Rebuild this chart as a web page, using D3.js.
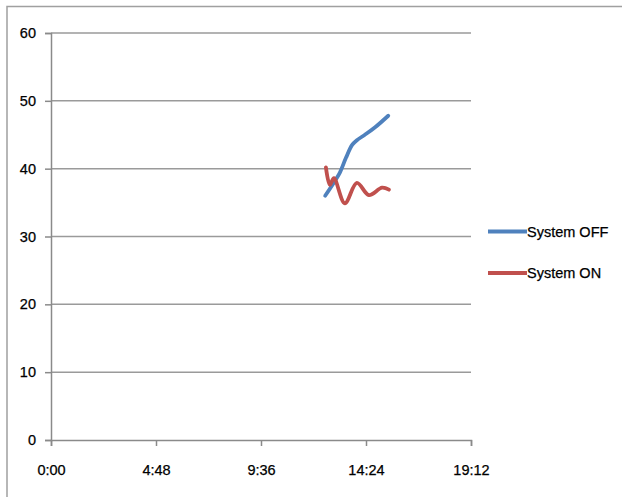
<!DOCTYPE html>
<html><head><meta charset="utf-8">
<script src="https://cdn.jsdelivr.net/npm/d3@7"></script>
<style>body{margin:0;background:#fff}svg{display:block}</style>
</head><body>
<svg id="c" width="622" height="497"></svg>
<script>
const yTicks = [0, 10, 20, 30, 40, 50, 60];
const xTickLabels = ["0:00", "4:48", "9:36", "14:24", "19:12"];
const seriesNames = ["System OFF", "System ON"];
const offTimes = ["12:32","12:53","13:13","13:29","13:46","13:59","14:21","14:49","15:25"];
const offValues = [36.0, 37.7, 39.5, 41.6, 43.5, 44.2, 45.0, 46.1, 47.8];
const onTimes = ["12:34","12:45","12:56","13:26","13:59","14:32","15:08","15:27"];
const onValues = [40.2, 37.6, 38.6, 34.9, 37.9, 36.1, 37.2, 36.9];

const colors = ["#4F81BD", "#C0504D"];
const toMin = s => { const [h, m] = s.split(":").map(Number); return h * 60 + m; };
const fmt = m => Math.floor(m / 60) + ":" + String(Math.round(m % 60)).padStart(2, "0");

const svg = d3.select("#c");
const L = 51, R = 471, T = 33, B = 440;
const x = d3.scaleLinear().domain([0, toMin("19:12")]).range([L, R]);
const y = d3.scaleLinear().domain([0, 60]).range([B, T]);
const font = "'Liberation Sans', Arial, sans-serif";

// outer frame (top & left)
svg.append("path").attr("d", "M7,497V6.5H622").attr("fill", "none").attr("stroke", "#a0a0a0").attr("stroke-width", 1.5);

// gridlines
svg.append("g").selectAll("line").data(yTicks.filter(d => d > 0)).join("line")
  .attr("x1", L).attr("x2", R).attr("y1", d => y(d)).attr("y2", d => y(d))
  .attr("stroke", "#9a9a9a").attr("stroke-width", 1.5);

// y axis
const ya = svg.append("g").attr("transform", `translate(${L},0)`)
  .call(d3.axisLeft(y).tickValues(yTicks).tickSize(6).tickPadding(9));
// x axis
const xa = svg.append("g").attr("transform", `translate(0,${B})`)
  .call(d3.axisBottom(x).tickValues(xTickLabels.map(toMin)).tickFormat(fmt).tickSize(6).tickPadding(19));
[ya, xa].forEach(g => {
  g.select(".domain").attr("stroke", "#8a8a8a").attr("stroke-width", 1.5);
  g.selectAll(".tick line").attr("stroke", "#8a8a8a").attr("stroke-width", 1.5);
  g.selectAll("text").attr("font-family", font).attr("font-size", 14.5).attr("fill", "#000")
    .attr("stroke", "#000").attr("stroke-width", 0.25);
});

// lines
const series = [
  offTimes.map((t, i) => [toMin(t), offValues[i]]),
  onTimes.map((t, i) => [toMin(t), onValues[i]])
];
const line = d3.line().x(d => x(d[0])).y(d => y(d[1])).curve(d3.curveCatmullRom);
series.forEach((s, i) => {
  svg.append("path").attr("d", line(s)).attr("fill", "none")
    .attr("stroke", colors[i]).attr("stroke-width", 3.8).attr("stroke-linejoin", "round").attr("stroke-linecap", "round");
});

// legend
const lg = svg.append("g");
seriesNames.forEach((n, i) => {
  const yy = 231.5 + i * 41.5;
  lg.append("line").attr("x1", 488).attr("x2", 527).attr("y1", yy).attr("y2", yy)
    .attr("stroke", colors[i]).attr("stroke-width", 4);
  lg.append("text").attr("x", 527).attr("y", yy).attr("dy", "0.35em")
    .attr("font-family", font).attr("font-size", 14.5).attr("fill", "#000")
    .attr("stroke", "#000").attr("stroke-width", 0.25).text(n);
});
</script>
</body></html>
